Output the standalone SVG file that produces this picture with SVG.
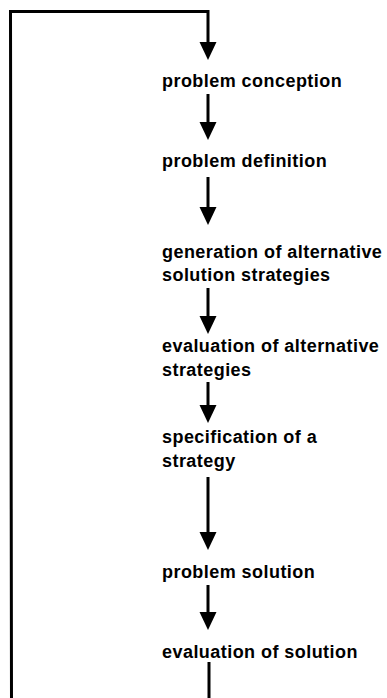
<svg xmlns="http://www.w3.org/2000/svg" width="387" height="698" viewBox="0 0 387 698">
<defs>
<style>
.lbl{font-family:"Liberation Sans",Arial,sans-serif;font-weight:bold;font-size:18px;fill:#000;letter-spacing:0.45px}
.con{stroke:#000;stroke-width:3;fill:none}
.head{fill:#000}
</style>
</defs>
<rect width="387" height="698" fill="#fff"/>
<g id="connectors">
<path class="con" d="M11.5,698 L10.5,11.5 L208,11.5 L208,45"/>
<path class="head" d="M199.5,42 L216.5,42 L208,60 Z"/>
<line class="con" x1="208" y1="94" x2="208" y2="125"/>
<path class="head" d="M199.5,122 L216.5,122 L208,140 Z"/>
<line class="con" x1="208" y1="177" x2="208" y2="210"/>
<path class="head" d="M199.5,207 L216.5,207 L208,225 Z"/>
<line class="con" x1="208" y1="288" x2="208" y2="319"/>
<path class="head" d="M199.5,316 L216.5,316 L208,334 Z"/>
<line class="con" x1="208" y1="382" x2="208" y2="405"/>
<path class="head" d="M199.5,405 L216.5,405 L208,423 Z"/>
<line class="con" x1="208" y1="477" x2="208" y2="535"/>
<path class="head" d="M199.5,532 L216.5,532 L208,550 Z"/>
<line class="con" x1="208" y1="585" x2="208" y2="615"/>
<path class="head" d="M199.5,612 L216.5,612 L208,630 Z"/>
<line class="con" x1="209" y1="662" x2="209" y2="698"/>
</g>
<g id="n1"><text class="lbl" x="162" y="87">problem conception</text></g>
<g id="n2"><text class="lbl" x="162" y="167">problem definition</text></g>
<g id="n3"><text class="lbl" x="162" y="258">generation of alternative</text><text class="lbl" x="162" y="281">solution strategies</text></g>
<g id="n4"><text class="lbl" x="162" y="352">evaluation of alternative</text><text class="lbl" x="162" y="376">strategies</text></g>
<g id="n5"><text class="lbl" x="162" y="443">specification of a</text><text class="lbl" x="162" y="467">strategy</text></g>
<g id="n6"><text class="lbl" x="162" y="578">problem solution</text></g>
<g id="n7"><text class="lbl" x="162" y="658">evaluation of solution</text></g>
</svg>
